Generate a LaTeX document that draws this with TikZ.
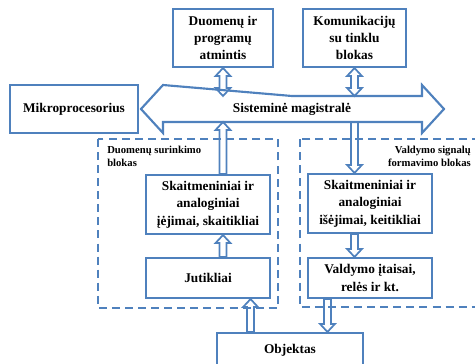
\documentclass[tikz,border=0pt]{standalone}
\usepackage{fontspec}
\setmainfont{Liberation Serif}
\usetikzlibrary{calc}
\definecolor{blokblue}{RGB}{79,129,189}
\tikzset{
  blok/.style={draw=blokblue, line width=1.6pt, align=center, inner sep=0pt,
    font=\bfseries\fontsize{10}{13}\selectfont},
  blokt/.style={align=center, inner sep=0pt, font=\bfseries\fontsize{10}{13}\selectfont},
  zona/.style={draw=blokblue, line width=1.5pt, dash pattern=on 6pt off 3.8pt},
  zonat/.style={inner sep=0pt, font=\bfseries\fontsize{8}{9.8}\selectfont},
  rodykle/.style={draw=blokblue, line width=1.3pt, line join=miter},
}
% hollow arrow from #1 to tip #2
\newcommand\vienrod[2]{%
  \draw[rodykle] let \p1=(#1), \p2=(#2), \n1={sign(\y2-\y1)} in
    (\x2-2.6pt,\y1) -- (\x2-2.6pt,\y2-\n1*6pt) -- (\x2-5.6pt,\y2-\n1*6pt) -- (\x2,\y2)
    -- (\x2+5.6pt,\y2-\n1*6pt) -- (\x2+2.6pt,\y2-\n1*6pt) -- (\x2+2.6pt,\y1) -- cycle;}
% hollow arrow with both tips
\newcommand\dvirod[2]{%
  \draw[rodykle] let \p1=(#1), \p2=(#2), \n1={sign(\y2-\y1)} in
    (\x1,\y1) -- (\x1+5.6pt,\y1+\n1*6pt) -- (\x1+2.6pt,\y1+\n1*6pt)
    -- (\x1+2.6pt,\y2-\n1*6pt) -- (\x1+5.6pt,\y2-\n1*6pt) -- (\x1,\y2)
    -- (\x1-5.6pt,\y2-\n1*6pt) -- (\x1-2.6pt,\y2-\n1*6pt)
    -- (\x1-2.6pt,\y1+\n1*6pt) -- (\x1-5.6pt,\y1+\n1*6pt) -- cycle;}

\begin{document}
\begin{tikzpicture}[x=0.75pt, y=-0.75pt]
\useasboundingbox (0,0) rectangle (475,364);
\clip (0,0) rectangle (475,364);

% dashed zones
\draw[zona] (98,139) rectangle (278,308);
\draw[zona] (300,139) rectangle (490,307);
\node[zonat, anchor=west, align=left] (zkair) at (107,156.5) {Duomenų surinkimo\\blokas};
\node[zonat, anchor=east, align=right] (zdes) at (471,156.5) {Valdymo signalų\\formavimo blokas};

% blocks
\node[blok, minimum width=75pt, minimum height=43.5pt] (mem) at (223,38)
  {Duomenų ir\\programų\\atmintis};
\node[blok, minimum width=77.25pt, minimum height=43.5pt] (kom) at (354.5,38)
  {Komunikacijų\\su tinklu\\blokas};
\node[blok, minimum width=96pt, minimum height=36pt] (mikro) at (74,109)
  {Mikroprocesorius};
\node[blok, minimum width=93pt, minimum height=44.25pt] (iej) at (208,204.5)
  {Skaitmeniniai ir\\analoginiai\\įėjimai, skaitikliai};
\node[blok, minimum width=93pt, minimum height=30pt] (jut) at (208,278)
  {Jutikliai};
\node[blok, minimum width=93pt, minimum height=44.25pt] (isej) at (370,203.5)
  {Skaitmeniniai ir\\analoginiai\\išėjimai, keitikliai};
\node[blok, minimum width=93pt, minimum height=30pt] (vald) at (370,278)
  {Valdymo įtaisai,\\relės ir kt.};
\node[blok, minimum width=109.5pt, minimum height=25.5pt] (obj) at (290,350)
  {Objektas};

% system bus
\coordinate (busv) at (292,96);
\coordinate (busa) at (292,122);
\draw[rodykle, line width=1.6pt] (141,109) -- (163,85) -- (163,96 -| busv) -- (422,96)
  -- (422,85) -- (444,109) -- (422,133) -- (422,122) -- (163,122) -- (163,133) -- cycle;
\node[blokt] (bus) at (292,109) {Sisteminė magistralė};

% connectors
\dvirod{mem.south}{mem.south |- busv}
\dvirod{kom.south}{kom.south |- busv}
\vienrod{iej.north -| mem.south}{mem.south |- busa}
\vienrod{jut.north -| mem.south}{iej.south -| mem.south}
\vienrod{kom.south |- busa}{isej.north -| kom.south}
\vienrod{isej.south -| kom.south}{vald.north -| kom.south}
\vienrod{[xshift=-15.4pt]obj.north -| jut.south east}{[xshift=-15.4pt]jut.south east}
\vienrod{[xshift=15.4pt]vald.south west}{[xshift=15.4pt]obj.north -| vald.south west}
\end{tikzpicture}
\end{document}
